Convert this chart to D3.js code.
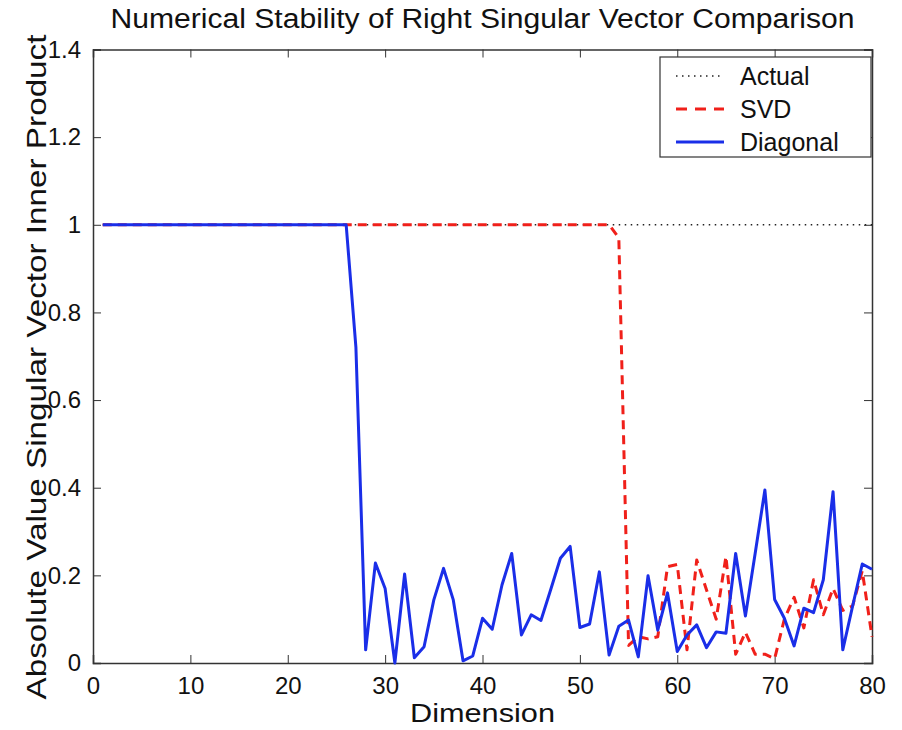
<!DOCTYPE html>
<html>
<head>
<meta charset="utf-8">
<script src="https://cdn.jsdelivr.net/npm/d3@7"></script>
<style>
  body { margin: 0; background: #fff; }
  text { font-family: "Liberation Sans", Arial, sans-serif; fill: #111; }
</style>
</head>
<body>
<svg width="902" height="730"></svg>
<script>
'use strict';

// dimension index 1..80
const dims = d3.range(1, 81);

const actual = [
  1,1,1,1,1,1,1,1,1,1, 1,1,1,1,1,1,1,1,1,1,
  1,1,1,1,1,1,1,1,1,1, 1,1,1,1,1,1,1,1,1,1,
  1,1,1,1,1,1,1,1,1,1, 1,1,1,1,1,1,1,1,1,1,
  1,1,1,1,1,1,1,1,1,1, 1,1,1,1,1,1,1,1,1,1
];

const svdVals = [
  1,1,1,1,1,1,1,1,1,1, 1,1,1,1,1,1,1,1,1,1,
  1,1,1,1,1,1,1,1,1,1, 1,1,1,1,1,1,1,1,1,1,
  1,1,1,1,1,1,1,1,1,1, 1,1,1,0.97,0.04,0.06,0.055,0.06,0.22,0.225,
  0.03,0.235,0.167,0.1,0.243,0.02,0.07,0.02,0.02,0.01,
  0.1,0.15,0.08,0.19,0.11,0.17,0.12,0.13,0.21,0.06
];

const diagonal = [
  1,1,1,1,1,1,1,1,1,1, 1,1,1,1,1,1,1,1,1,1,
  1,1,1,1,1,1,0.72,0.03,0.228,0.17,
  0.0,0.203,0.012,0.037,0.144,0.216,0.144,0.005,0.016,0.102,
  0.077,0.178,0.25,0.064,0.11,0.097,0.167,0.239,0.266,0.081,
  0.089,0.208,0.018,0.084,0.098,0.014,0.199,0.075,0.16,0.026,
  0.064,0.087,0.035,0.071,0.068,0.25,0.107,0.25,0.395,0.145,
  0.102,0.039,0.125,0.115,0.19,0.391,0.03,0.129,0.226,0.214
];

const xTicks = [0, 10, 20, 30, 40, 50, 60, 70, 80];
const yTicks = [0, 0.2, 0.4, 0.6, 0.8, 1, 1.2, 1.4];
const seriesNames = ["Actual", "SVD", "Diagonal"];

let svg = d3.select("svg"),
    width = +svg.attr("width"),
    height = +svg.attr("height"),
    marge = {top: 49.5, bottom: 67, left: 93, right: 30};
let w = width - marge.left - marge.right,
    h = height - marge.top - marge.bottom;
let g = svg.append("g")
    .attr("transform", "translate(" + marge.left + "," + marge.top + ")");

let x = d3.scaleLinear().domain([0, 80]).range([0, w]);
let y = d3.scaleLinear().domain([0, 1.4]).range([h, 0]);

let fmt = function(d) { return d3.format("")(+d.toFixed(1)); };

// axes, MATLAB style box with inward ticks
let axBottom = g.append("g").attr("transform", "translate(0," + h + ")")
    .call(d3.axisBottom(x).tickValues(xTicks).tickSize(-8).tickPadding(14).tickFormat(fmt));
let axTop = g.append("g")
    .call(d3.axisTop(x).tickValues(xTicks).tickSize(-8).tickFormat(""));
let axLeft = g.append("g")
    .call(d3.axisLeft(y).tickValues(yTicks).tickSize(-8).tickPadding(12).tickFormat(fmt));
let axRight = g.append("g").attr("transform", "translate(" + w + ",0)")
    .call(d3.axisRight(y).tickValues(yTicks).tickSize(-8).tickFormat(""));

[axBottom, axTop, axLeft, axRight].forEach(function(a) {
  a.select(".domain").attr("stroke", "#333").attr("stroke-width", 1.5);
  a.selectAll(".tick line").attr("stroke", "#333").attr("stroke-width", 1);
  a.selectAll(".tick text").attr("font-size", 24).attr("fill", "#111")
    .attr("font-family", "'Liberation Sans', Arial, sans-serif");
});

// lines
let line = function(vals) {
  return d3.line()
    .x(function(d, i) { return x(dims[i]); })
    .y(function(d) { return y(d); })(vals);
};

g.append("path").attr("d", line(actual))
    .attr("fill", "none").attr("stroke", "#222").attr("stroke-width", 1.5)
    .attr("stroke-dasharray", "1.5,4.5");
g.append("path").attr("d", line(svdVals))
    .attr("fill", "none").attr("stroke", "#f0201a").attr("stroke-width", 3)
    .attr("stroke-dasharray", "9,6").attr("stroke-linejoin", "round");
g.append("path").attr("d", line(diagonal))
    .attr("fill", "none").attr("stroke", "#1a2ee8").attr("stroke-width", 3)
    .attr("stroke-linejoin", "round");

// legend
let leg = svg.append("g").attr("transform", "translate(660,57)");
leg.append("rect").attr("width", 211).attr("height", 100)
    .attr("fill", "#fff").attr("stroke", "#333").attr("stroke-width", 1.2);
let styles = [
  {stroke: "#222", width: 1.5, dash: "1.5,4.5"},
  {stroke: "#f0201a", width: 3, dash: "11,8"},
  {stroke: "#1a2ee8", width: 3, dash: null}
];
seriesNames.forEach(function(name, i) {
  let yy = 19 + i * 33;
  leg.append("line").attr("x1", 16).attr("x2", 64).attr("y1", yy).attr("y2", yy)
      .attr("stroke", styles[i].stroke).attr("stroke-width", styles[i].width)
      .attr("stroke-dasharray", styles[i].dash);
  leg.append("text").attr("x", 80).attr("y", yy + 9).attr("font-size", 25).text(name);
});

// titles
svg.append("text").attr("x", marge.left + w / 2).attr("y", 28)
    .attr("text-anchor", "middle").attr("font-size", 27)
    .attr("textLength", 744).attr("lengthAdjust", "spacingAndGlyphs")
    .text("Numerical Stability of Right Singular Vector Comparison");
svg.append("text").attr("x", marge.left + w / 2).attr("y", 722)
    .attr("text-anchor", "middle").attr("font-size", 26)
    .attr("textLength", 145).attr("lengthAdjust", "spacingAndGlyphs")
    .text("Dimension");
svg.append("text")
    .attr("transform", "translate(46,367) rotate(-90)")
    .attr("text-anchor", "middle").attr("font-size", 28)
    .attr("textLength", 665).attr("lengthAdjust", "spacingAndGlyphs")
    .text("Absolute Value Singular Vector Inner Product");
</script>
</body>
</html>
